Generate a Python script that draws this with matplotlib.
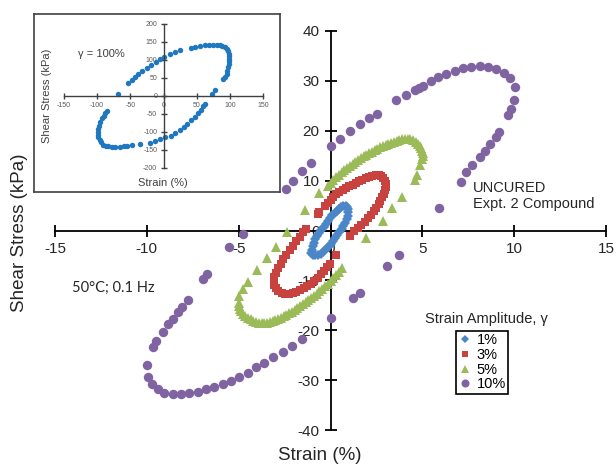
import matplotlib
matplotlib.use("Agg")
import matplotlib.pyplot as plt

plt.rcParams['font.family'] = ['Liberation Sans', 'DejaVu Sans']
plt.rcParams['axes.unicode_minus'] = False

# ---- data (strain %, shear stress kPa) ----
amp1_x = [-1.05, -1.02, -0.97, -0.90, -0.82, -0.72, -0.62, -0.50, -0.38, -0.26,
          -0.14, -0.02, 0.10, 0.22, 0.34, 0.46, 0.58, 0.70, 0.82, 0.92,
          0.98, 0.98, 0.94, 0.88, 0.80, 0.70, 0.60, 0.48, 0.36, 0.24,
          0.12, 0.00, -0.12, -0.26, -0.40, -0.54, -0.68, -0.82, -0.95]
amp1_y = [-4.6, -3.9, -3.2, -2.5, -1.8, -1.1, -0.5, 0.2, 0.8, 1.4,
          2.0, 2.6, 3.1, 3.6, 4.0, 4.4, 4.7, 4.9, 5.0, 4.8,
          4.3, 3.7, 3.0, 2.3, 1.6, 0.9, 0.3, -0.4, -1.0, -1.6,
          -2.2, -2.8, -3.3, -3.8, -4.3, -4.7, -4.9, -5.0, -4.9]

amp3_x = [-0.30, -0.15, 0.00, 0.15, 0.30, 0.48, 0.66, 0.84, 1.02, 1.20,
          1.38, 1.56, 1.74, 1.92, 2.10, 2.28, 2.46, 2.62, 2.76, 2.88,
          2.96, 3.00, 3.00, 2.96, 2.90, 2.82, 2.72, 2.62, 2.50, 2.36,
          2.20, 2.04, 1.86, 1.68, 1.50, 1.30, 1.08, 0.31,
          -0.05, -0.20, -0.36, -0.52, -0.70, -0.88, -1.06, -1.26, -1.46, -1.66,
          -1.86, -2.06, -2.26, -2.46, -2.66, -2.84, -2.98, -3.08, -3.10, -3.06,
          -2.98, -2.86, -2.72, -2.56, -2.40, -2.22, -2.04, -1.86, -1.68, -1.50,
          -1.32, -0.69, -0.60]
amp3_y = [4.9, 5.5, 6.2, 6.8, 7.3, 7.7, 8.1, 8.5, 8.9, 9.2,
          9.6, 9.9, 10.2, 10.5, 10.8, 11.0, 11.1, 11.1, 10.9, 10.5,
          10.0, 9.4, 8.8, 8.1, 7.4, 6.7, 6.0, 5.3, 4.6, 3.9,
          3.2, 2.5, 1.8, 1.2, 0.6, -0.1, -1.2, -5.0,
          -6.7, -7.4, -8.1, -8.8, -9.5, -10.1, -10.7, -11.2, -11.6, -12.0,
          -12.3, -12.6, -12.8, -12.8, -12.6, -12.2, -11.6, -10.9, -10.1, -9.3,
          -8.5, -7.6, -6.7, -5.8, -4.9, -4.0, -3.1, -2.2, -1.3, -0.4,
          0.4, 3.3, 3.7]

amp5_x = [-0.15, 0.00, 0.15, 0.30, 0.45, 0.60, 0.75, 0.90, 1.05, 1.20,
          1.35, 1.50, 1.65, 1.80, 1.95, 2.10, 2.25, 2.40, 2.55, 2.70,
          2.85, 3.00, 3.15, 3.30, 3.45, 3.60, 3.75, 3.90, 4.05, 4.20,
          4.35, 4.50, 4.63, 4.75, 4.85, 4.93, 4.99, 5.03, 5.04,
          4.97, 4.90, 4.72, 4.58, 3.87, 3.37, 2.84, 1.96, 0.62,
          0.45, 0.30, 0.15, 0.00, -0.15, -0.30, -0.45, -0.60, -0.75, -0.90,
          -1.05, -1.20, -1.35, -1.50, -1.65, -1.80, -1.95, -2.10, -2.25, -2.40,
          -2.55, -2.70, -2.85, -3.00, -3.15, -3.30, -3.45, -3.60, -3.75, -3.90,
          -4.05, -4.20, -4.35, -4.50, -4.63, -4.75, -4.85, -4.93, -4.98, -5.00,
          -4.96, -4.76, -4.47, -4.02, -3.48, -2.95, -2.36, -1.40, -0.62]
amp5_y = [9.0, 9.6, 10.2, 10.7, 11.2, 11.7, 12.2, 12.6, 13.0, 13.4,
          13.8, 14.2, 14.5, 14.9, 15.2, 15.5, 15.8, 16.1, 16.4, 16.7,
          16.9, 17.2, 17.4, 17.6, 17.8, 18.0, 18.2, 18.3, 18.4, 18.4,
          18.3, 18.1, 17.8, 17.4, 17.0, 16.5, 16.0, 15.5, 15.0,
          14.3, 13.2, 11.2, 10.1, 6.7, 4.5, 2.0, -1.6, -7.5,
          -8.3, -8.9, -9.5, -10.1, -10.7, -11.2, -11.7, -12.2, -12.7, -13.2,
          -13.6, -14.0, -14.4, -14.8, -15.2, -15.6, -16.0, -16.3, -16.6, -16.9,
          -17.2, -17.5, -17.8, -18.0, -18.2, -18.4, -18.5, -18.6, -18.6, -18.5,
          -18.3, -18.1, -17.8, -17.5, -17.1, -16.7, -16.2, -15.7, -15.2, -14.6,
          -13.2, -11.8, -10.4, -8.0, -5.5, -3.3, -0.4, 4.1, 7.6]

amp10_x = [0.00, 0.50, 1.07, 1.58, 2.07, 2.53, 3.58, 4.09, 4.58, 4.80,
           5.03, 5.45, 5.85, 6.30, 6.76, 7.21, 7.67, 8.12, 8.57, 9.03,
           9.43, 9.79, 10.03, 9.97, 9.85, 9.66,
           9.16, 9.00, 8.70, 8.39, 8.12, 7.72, 7.39, 7.08, 5.90, 3.71,
           3.09, 1.58, 1.22, 0.00, -1.55,
           -2.09, -2.60, -3.11, -3.60, -4.05, -4.51, -4.96, -5.41, -5.87, -6.32,
           -6.77, -7.23, -7.68, -8.14, -8.59, -9.05, -9.41, -9.72, -9.92, -10.01,
           -9.65, -9.50, -9.14, -8.87, -8.59, -8.32, -8.08, -7.78, -6.92, -6.74,
           -5.50, -4.78, -2.45, -2.05, -1.57, -1.05]
amp10_y = [16.9, 18.4, 19.9, 21.3, 22.5, 23.4, 26.1, 27.2, 28.1, 28.5,
           28.9, 30.0, 30.7, 31.3, 32.0, 32.5, 32.8, 32.9, 32.8, 32.3,
           31.5, 30.5, 28.7, 26.1, 24.4, 23.1,
           19.7, 18.7, 17.4, 15.9, 14.7, 13.1, 11.7, 9.8, 4.5, -4.9,
           -7.2, -12.5, -13.6, -17.5, -21.8,
           -23.1, -24.4, -25.4, -26.6, -27.4, -28.5, -29.3, -30.1, -30.8, -31.3,
           -31.8, -32.3, -32.6, -32.8, -32.8, -32.5, -31.8, -30.8, -29.3, -26.9,
           -23.3, -22.1, -20.4, -18.7, -17.7, -16.4, -15.3, -13.9, -9.7, -8.8,
           -3.3, -0.7, 8.4, 10.0, 11.9, 13.6]

# inset: gamma = 100 %
big_x = [-68, -54, -48, -43, -38, -32, -25, -19, -12, -5,
         1, 10, 17, 25, 41, 47, 55, 62, 68, 74,
         80, 85, 88, 92, 95, 97, 98.5, 99, 99, 99,
         98, 97.5, 96, 95, 92, 90, 77, 73,
         62, 60, 56, 52, 47, 42, 36, 31, 25, 18,
         11, 3, -5, -13, -20, -35, -48, -55, -60, -65,
         -73, -78, -83, -87, -91, -94, -96, -98, -99, -99,
         -98.5, -97, -95, -93, -90, -88, -85]
big_y = [5, 35, 44, 54, 61, 69, 77, 86, 95, 103,
         108, 116, 121, 127, 134, 136, 139, 141, 142, 143,
         142, 141, 139, 135, 130, 124, 118, 111, 104, 97,
         88, 80, 70, 61, 53, 48, 17, 5,
         -22, -29, -38, -48, -58, -68, -78, -86, -95, -103,
         -110, -115, -119, -125, -130, -133, -136, -138, -140, -141,
         -141, -141, -140, -138, -135, -129, -122, -115, -108, -100,
         -92, -82, -72, -62, -55, -48, -42]

series_labels = ['1%', '3%', '5%', '10%']
main_ticks_x = [-15, -10, -5, 0, 5, 10, 15]
main_ticks_y = [-40, -30, -20, -10, 0, 10, 20, 30, 40]
inset_ticks_x = [-150, -100, -50, 0, 50, 100, 150]
inset_ticks_y = [-200, -150, -100, -50, 0, 50, 100, 150, 200]

W, H = 616, 466


def fx(x):
    return x / W


def fy(y):
    return 1 - y / H


fig = plt.figure(figsize=(W / 100, H / 100), dpi=100)

# main plot with axes crossing at the origin
ax = fig.add_axes([fx(55), fy(430), 551 / W, 399 / H])
ax.set_xlim(-15, 15)
ax.set_ylim(-40, 40)
for s in ['top', 'right']:
    ax.spines[s].set_visible(False)
for s in ['left', 'bottom']:
    ax.spines[s].set_position('zero')
    ax.spines[s].set_linewidth(1.3)
ax.set_xticks(main_ticks_x)
ax.set_yticks(main_ticks_y)
ax.tick_params(direction='inout', length=8, width=1.3, labelsize=11,
               labelcolor='#262626', pad=4)
ax.patch.set_alpha(0)

h1, = ax.plot(amp1_x, amp1_y, 'D', color='#4A86C8', ms=4.8, mew=0, label=series_labels[0], zorder=6)
h3, = ax.plot(amp3_x, amp3_y, 's', color='#C8423F', ms=5.8, mew=0, label=series_labels[1], zorder=5)
h5, = ax.plot(amp5_x, amp5_y, '^', color='#9BBB59', ms=6.8, mew=0, label=series_labels[2], zorder=4)
h10, = ax.plot(amp10_x, amp10_y, 'o', color='#8064A2', ms=6.8, mew=0, label=series_labels[3], zorder=4)

fig.text(fx(20), fy(233), 'Shear Stress (kPa)', rotation=90, fontsize=13.5,
         ha='center', va='center', color='#262626')
fig.text(fx(320), fy(455), 'Strain (%)', fontsize=13.5, ha='center', va='center',
         color='#262626')

fig.text(fx(473), fy(196), 'UNCURED\nExpt. 2 Compound', fontsize=10.5,
         ha='left', va='center', linespacing=1.15, color='#262626')
fig.text(fx(72), fy(288), '50°C; 0.1 Hz', fontsize=10.5, family=['Lato', 'DejaVu Sans'],
         ha='left', va='center', color='#262626')
fig.text(fx(425), fy(319), 'Strain Amplitude, γ', fontsize=10.5, ha='left',
         va='center', color='#262626')

leg = ax.legend(handles=[h1, h3, h5, h10], loc='upper left',
                bbox_to_anchor=(fx(456), fy(331)), bbox_transform=fig.transFigure,
                fancybox=False, edgecolor='black', framealpha=1, fontsize=10.5,
                borderpad=0.15, handlelength=0.9, handletextpad=0.35,
                labelspacing=0.05, borderaxespad=0, markerscale=0.85)
leg.get_frame().set_linewidth(1.2)

# inset frame and inset plot
frame = fig.add_axes([fx(34), fy(192), 246 / W, 178 / H])
frame.set_xticks([])
frame.set_yticks([])
for s in frame.spines.values():
    s.set_color('#404040')
    s.set_linewidth(1.2)

ins = fig.add_axes([fx(64), fy(168), 199 / W, 144 / H])
ins.patch.set_alpha(0)
ins.set_xlim(-150, 150)
ins.set_ylim(-200, 200)
for s in ['top', 'right']:
    ins.spines[s].set_visible(False)
for s in ['left', 'bottom']:
    ins.spines[s].set_position('zero')
    ins.spines[s].set_linewidth(1.0)
    ins.spines[s].set_color('#404040')
ins.set_xticks(inset_ticks_x)
ins.set_yticks(inset_ticks_y)
ins.tick_params(direction='inout', length=5, width=1.0, labelsize=5,
                labelcolor='#595959', color='#404040', pad=2)
ins.plot(big_x, big_y, 'o', color='#1F77C0', ms=3.9, mew=0)

fig.text(fx(47), fy(96), 'Shear Stress (kPa)', rotation=90, fontsize=8,
         ha='center', va='center', color='#404040')
fig.text(fx(163), fy(183), 'Strain (%)', fontsize=8, ha='center', va='center',
         color='#404040')
fig.text(fx(78), fy(54), 'γ = 100%', fontsize=8, ha='left', va='center',
         color='#404040')

fig.savefig('out.png', dpi=100)
